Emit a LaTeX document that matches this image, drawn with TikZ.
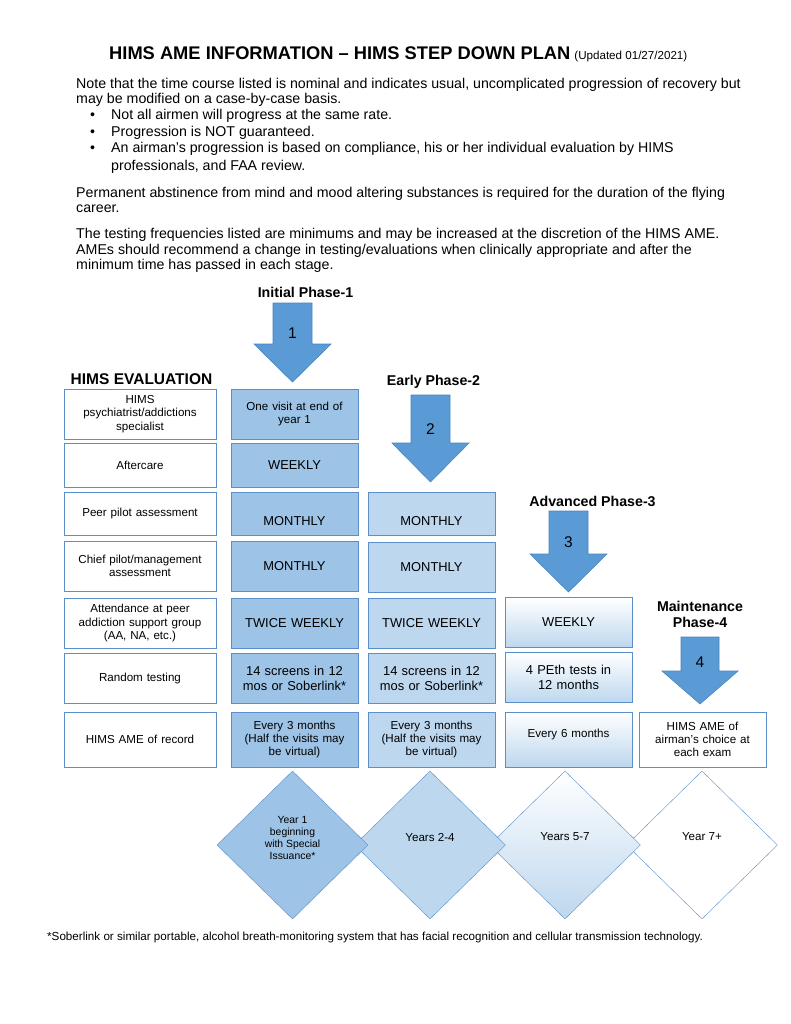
\documentclass[tikz,border=0pt]{standalone}
\usepackage{fontspec}
\setmainfont{Liberation Sans}
\usepackage{xcolor}
\usetikzlibrary{shapes.geometric}
\definecolor{boxLine}{HTML}{5B8FC9}
\definecolor{phaseOneBlue}{HTML}{9DC3E6}
\definecolor{phaseTwoBlue}{HTML}{BDD7EE}
\definecolor{arrowBlue}{HTML}{5B9BD5}
\definecolor{arrowLine}{HTML}{4A84BE}

\begin{document}
\begin{tikzpicture} [
    x=1pt, y=-1pt,
    bodyText/.style={anchor=base west, inner sep=0pt, font=\fontsize{14.2}{16}\selectfont},
    evalNode/.style={draw=boxLine, fill=white, minimum width=152, text width=146, align=center, inner sep=0pt, font=\fontsize{11.6}{13.3}\selectfont},
    phaseNode/.style={draw=boxLine, minimum width=127, text width=122, align=center, inner sep=0pt, font=\fontsize{12.9}{15}\selectfont},
    smallText/.style={font=\fontsize{11.6}{13.3}\selectfont},
    phaseOne/.style={phaseNode, fill=phaseOneBlue},
    phaseTwo/.style={phaseNode, fill=phaseTwoBlue},
    phaseThree/.style={phaseNode, top color=white, bottom color=phaseTwoBlue},
    phaseFour/.style={phaseNode, fill=white},
    phaseTitle/.style={anchor=base, inner sep=0pt, align=center, font=\bfseries\fontsize{14.2}{16}\selectfont},
    phaseArrow/.style={fill=arrowBlue, draw=arrowLine, line width=0.6pt},
    arrowNum/.style={inner sep=0pt, font=\fontsize{15.5}{17}\selectfont},
    stage/.style={diamond, draw=boxLine, minimum width=151, minimum height=148, inner sep=0pt},
    stageText/.style={align=center, inner sep=0pt, font=\fontsize{11.6}{13}\selectfont}
]
    \fill[white] (0,0) rectangle (791,1024);
    \useasboundingbox (0,0) rectangle (791,1024);

    % heading and notes
    \node[anchor=base west, inner sep=0pt] (title) at (109,59.5) {{\bfseries\fontsize{18.3}{20}\selectfont HIMS AME INFORMATION – HIMS STEP DOWN PLAN}\hspace{4pt}{\fontsize{11.6}{13}\selectfont (Updated 01/27/2021)}};
    \node[bodyText] (note1) at (76,88.5) {Note that the time course listed is nominal and indicates usual, uncomplicated progression of recovery but};
    \node[bodyText] (note2) at (76,104) {may be modified on a case-by-case basis.};
    \node[bodyText] (dot1) at (90,119.5) {•};
    \node[bodyText] (bullet1) at (111,119.5) {Not all airmen will progress at the same rate.};
    \node[bodyText] (dot2) at (90,136.5) {•};
    \node[bodyText] (bullet2) at (111,136.5) {Progression is NOT guaranteed.};
    \node[bodyText] (dot3) at (90,153) {•};
    \node[bodyText] (bullet3) at (111,153) {An airman’s progression is based on compliance, his or her individual evaluation by HIMS};
    \node[bodyText] (bullet3b) at (111,170.5) {professionals, and FAA review.};
    \node[bodyText] (perm1) at (76,197.5) {Permanent abstinence from mind and mood altering substances is required for the duration of the flying};
    \node[bodyText] (perm2) at (76,213) {career.};
    \node[bodyText] (test1) at (76,238) {The testing frequencies listed are minimums and may be increased at the discretion of the HIMS AME.};
    \node[bodyText] (test2) at (76,254) {AMEs should recommend a change in testing/evaluations when clinically appropriate and after the};
    \node[bodyText] (test3) at (76,269) {minimum time has passed in each stage.};

    % phase headings and arrows
    \node[phaseTitle, font=\bfseries\fontsize{15.5}{17}\selectfont] (evalTitle) at (141.5,384.5) {HIMS EVALUATION};
    \node[phaseTitle] (initTitle) at (305.5,297) {Initial Phase-1};
    \node[phaseTitle] (earlyTitle) at (433.5,385) {Early Phase-2};
    \node[phaseTitle] (advTitle) at (592.5,506) {Advanced Phase-3};
    \node[phaseTitle] (mainTitle) at (700,627) {Maintenance\\Phase-4};

    \draw[phaseArrow] (273,303) -- (312,303) -- (312,344) -- (331,344) -- (292.5,382) -- (254,344) -- (273,344) -- cycle;
    \draw[phaseArrow] (411,395) -- (450,395) -- (450,443) -- (469,443) -- (430.5,482) -- (392,443) -- (411,443) -- cycle;
    \draw[phaseArrow] (549,511) -- (588,511) -- (588,554) -- (607,554) -- (568.5,592) -- (530,554) -- (549,554) -- cycle;
    \draw[phaseArrow] (681,637) -- (719,637) -- (719,671) -- (738,671) -- (700,704) -- (662,671) -- (681,671) -- cycle;
    \node[arrowNum] (num1) at (292.5,333) {1};
    \node[arrowNum] (num2) at (430.5,429) {2};
    \node[arrowNum] (num3) at (568.5,542) {3};
    \node[arrowNum] (num4) at (700,662) {4};

    % evaluation rows
    \node[evalNode, minimum height=50] (psych) at (140,414) {HIMS\\psychiatrist/addictions\\specialist};
    \node[evalNode, minimum height=44] (after) at (140,465) {Aftercare};
    \node[evalNode, minimum height=43] (peer) at (140,513.5) {Peer pilot assessment};
    \node[evalNode, minimum height=50] (chief) at (140,566) {Chief pilot/management\\assessment};
    \node[evalNode, minimum height=50] (attend) at (140,623) {Attendance at peer\\addiction support group\\(AA, NA, etc.)};
    \node[evalNode, minimum height=50] (random) at (140,678) {Random testing};
    \node[evalNode, minimum height=55] (record) at (140,739.5) {HIMS AME of record};

    % phase 1
    \node[phaseOne, smallText, minimum height=50] (psychOne) at (294.5,414) {One visit at end of\\year 1};
    \node[phaseOne, minimum height=44] (afterOne) at (294.5,465) {WEEKLY};
    \node[phaseOne, minimum height=43, text height=23pt, text depth=0pt] (peerOne) at (294.5,513.5) {MONTHLY};
    \node[phaseOne, minimum height=50] (chiefOne) at (294.5,566) {MONTHLY};
    \node[phaseOne, minimum height=50] (attendOne) at (294.5,623) {TWICE WEEKLY};
    \node[phaseOne, minimum height=50] (randomOne) at (294.5,678) {14 screens in 12\\mos or Soberlink*};
    \node[phaseOne, smallText, minimum height=55] (recordOne) at (294.5,739.5) {Every 3 months\\(Half the visits may\\be virtual)};

    % phase 2
    \node[phaseTwo, minimum height=43, text height=23pt, text depth=0pt] (peerTwo) at (431.5,513.5) {MONTHLY};
    \node[phaseTwo, minimum height=50] (chiefTwo) at (431.5,567) {MONTHLY};
    \node[phaseTwo, minimum height=50] (attendTwo) at (431.5,623) {TWICE WEEKLY};
    \node[phaseTwo, minimum height=50] (randomTwo) at (431.5,678) {14 screens in 12\\mos or Soberlink*};
    \node[phaseTwo, smallText, minimum height=55] (recordTwo) at (431.5,739.5) {Every 3 months\\(Half the visits may\\be virtual)};

    % phase 3
    \node[phaseThree, minimum height=50] (attendThree) at (568.5,622.5) {WEEKLY};
    \node[phaseThree, minimum height=50] (randomThree) at (568.5,677.5) {4 PEth tests in\\12 months};
    \node[phaseThree, smallText, minimum height=55, text depth=13pt] (recordThree) at (568.5,739.5) {Every 6 months};

    % phase 4
    \node[phaseFour, smallText, minimum height=55] (recordFour) at (702.5,739.5) {HIMS AME of\\airman’s choice at\\each exam};

    % stages
    \node[stage, fill=white, label={[stageText, yshift=8pt]center:Year 7+}] (yearsFour) at (702,845) {};
    \node[stage, top color=white, bottom color=phaseTwoBlue, label={[stageText, yshift=8pt]center:Years 5-7}] (yearsThree) at (565,845) {};
    \node[stage, fill=phaseTwoBlue, label={[stageText, yshift=8pt]center:Years 2-4}] (yearsTwo) at (430,845) {};
    \node[stage, fill=phaseOneBlue, label={[stageText, yshift=7pt, font=\fontsize{10.4}{11.9}\selectfont]center:Year 1\\beginning\\with Special\\Issuance*}] (yearOne) at (292.5,845) {};

    \node[anchor=base west, inner sep=0pt, font=\fontsize{11.65}{13}\selectfont] (foot) at (47,940) {*Soberlink or similar portable, alcohol breath-monitoring system that has facial recognition and cellular transmission technology.};
\end{tikzpicture}
\end{document}
